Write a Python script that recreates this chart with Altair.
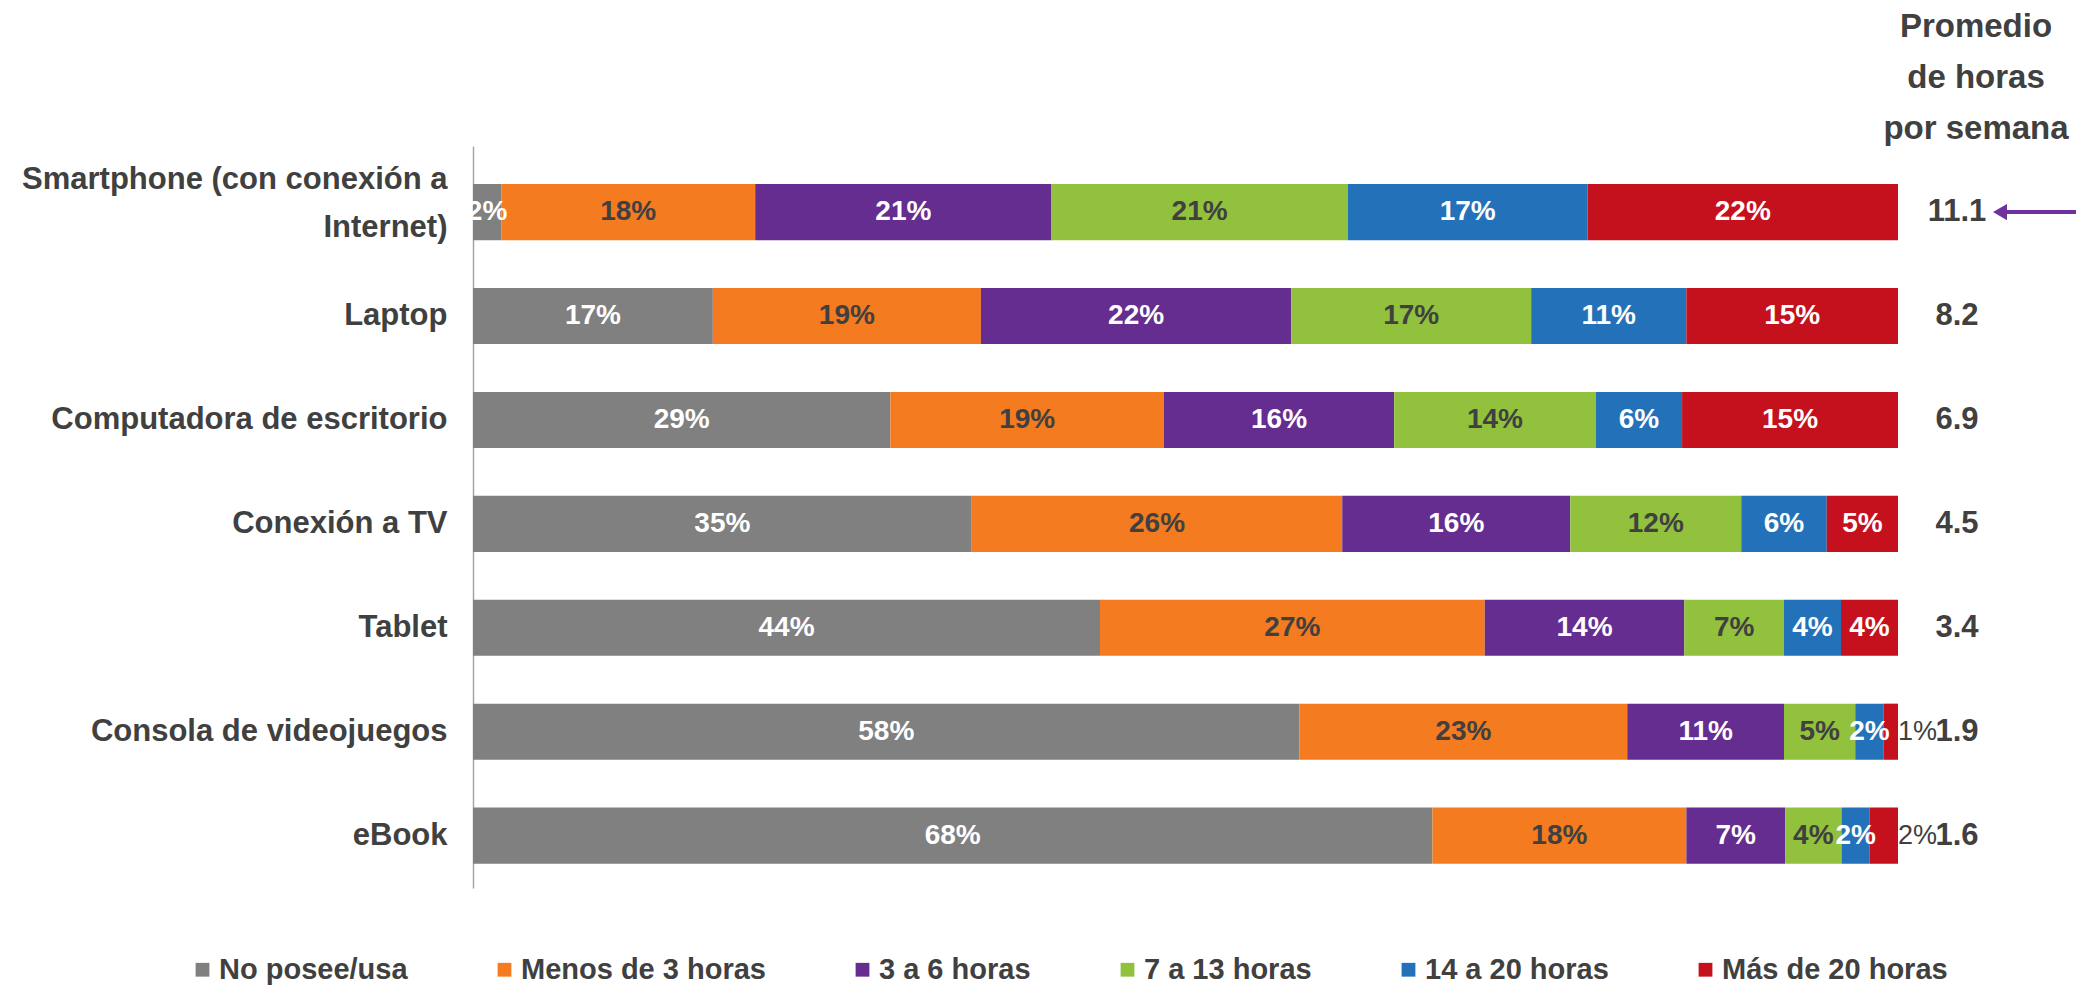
import altair as alt
import pandas as pd

# ---------------- data ----------------
devices = [
    "Smartphone (con conexión a Internet)",
    "Laptop",
    "Computadora de escritorio",
    "Conexión a TV",
    "Tablet",
    "Consola de videojuegos",
    "eBook",
]
categories = ["No posee/usa", "Menos de 3 horas", "3 a 6 horas",
              "7 a 13 horas", "14 a 20 horas", "Más de 20 horas"]
colors = ["#808080", "#f47b20", "#652d90", "#92c13e", "#2372b9", "#c5111d"]

no_posee = [2, 17, 29, 35, 44, 58, 68]
menos_3 = [18, 19, 19, 26, 27, 23, 18]
h3_6 = [21, 22, 16, 16, 14, 11, 7]
h7_13 = [21, 17, 14, 12, 7, 5, 4]
h14_20 = [17, 11, 6, 6, 4, 2, 2]
mas_20 = [22, 15, 15, 5, 4, 1, 2]

promedio = ["11.1", "8.2", "6.9", "4.5", "3.4", "1.9", "1.6"]
promedio_title = "Promedio\nde horas\npor semana"

# labels that sit just outside the end of their bar
outside_labels = [("Consola de videojuegos", "Más de 20 horas"),
                  ("eBook", "Más de 20 horas")]

series = [no_posee, menos_3, h3_6, h7_13, h14_20, mas_20]

rows = []
for ci, (cat, vals) in enumerate(zip(categories, series)):
    for d, v in zip(devices, vals):
        rows.append({"device": d, "category": cat, "value": v, "order": ci,
                     "outside": (d, cat) in outside_labels})
df = pd.DataFrame(rows)
df_prom = pd.DataFrame({"device": devices, "prom": promedio})
df_title = pd.DataFrame({"t": [promedio_title]})
df_arrow = pd.DataFrame({"device": [devices[0]]})

FONT = "Liberation Sans"
DARK = "#404040"
W, H = 1425, 742
SMART = devices[0]

y_enc = alt.Y(
    "device:N", sort=devices, title=None,
    scale=alt.Scale(paddingInner=0.46, paddingOuter=0.3, align=0.61),
    axis=alt.Axis(
        labelFont=FONT, labelFontSize=31, labelFontWeight="bold",
        labelColor=DARK, labelPadding=26, ticks=False, labelLimit=700,
        domainColor="#a6a6a6", domainWidth=1.5, labelLineHeight=48,
        labelOffset={"condition": {"test": f"datum.value == '{SMART}'", "value": -32},
                     "value": 0},
        labelExpr=f"datum.label == '{SMART}' ? "
                  "['Smartphone (con conexión a', 'Internet)'] : datum.label",
    ),
)

base = (
    alt.Chart(df)
    .transform_stack(stack="value", groupby=["device"], as_=["x0", "x1"],
                     offset="normalize", sort=[alt.SortField("order", "ascending")])
    .transform_calculate(mid="(datum.x0 + datum.x1) / 2",
                         lab="datum.value + '%'")
)

bars = base.mark_bar().encode(
    x=alt.X("x0:Q", scale=alt.Scale(domain=[0, 1], nice=False), axis=None),
    x2="x1:Q",
    y=y_enc,
    color=alt.Color(
        "category:N", title=None,
        scale=alt.Scale(domain=categories, range=colors),
        legend=alt.Legend(
            orient="none", legendX=-285, legendY=809, direction="horizontal",
            columns=6, symbolType="square", symbolSize=190, symbolStrokeWidth=0,
            labelFont=FONT, labelFontSize=29, labelFontWeight="bold",
            labelColor=DARK, columnPadding=82, labelOffset=2, labelLimit=500,
        ),
    ),
)

labels_in = base.transform_filter("!datum.outside").mark_text(
    font=FONT, fontSize=28, fontWeight="bold"
).encode(
    x="mid:Q",
    y=alt.Y("device:N", sort=devices),
    text="lab:N",
    color=alt.condition(
        "datum.category == 'Menos de 3 horas' || datum.category == '7 a 13 horas'",
        alt.value(DARK), alt.value("white")),
)

labels_out = base.transform_filter("datum.outside").mark_text(
    font=FONT, fontSize=27, align="left", dx=0, color=DARK
).encode(
    x="x1:Q",
    y=alt.Y("device:N", sort=devices),
    text="lab:N",
)

prom = alt.Chart(df_prom).mark_text(
    font=FONT, fontSize=31, fontWeight="bold", color=DARK, align="center"
).encode(
    x=alt.value(W + 59),
    y=alt.Y("device:N", sort=devices),
    text="prom:N",
)

title = alt.Chart(df_title).mark_text(
    font=FONT, fontSize=33, fontWeight="bold", color=DARK, align="center",
    baseline="middle", lineBreak="\n", lineHeight=51
).encode(
    x=alt.value(W + 78),
    y=alt.value(-119),
    text="t:N",
)

arrow_line = alt.Chart(df_arrow).mark_rule(color="#7030a0", strokeWidth=4).encode(
    y=alt.Y("device:N", sort=devices),
    x=alt.value(W + 102),
    x2=alt.value(W + 200),
)
arrow_head = alt.Chart(df_arrow).mark_point(
    shape="triangle-left", filled=True, size=260, color="#7030a0", opacity=1
).encode(
    y=alt.Y("device:N", sort=devices),
    x=alt.value(W + 102),
)

chart = (
    alt.layer(bars, labels_in, labels_out, prom, title, arrow_line, arrow_head)
    .properties(
        width=W, height=H,
        padding={"left": 465, "top": 138, "right": 178, "bottom": 98},
        autosize=alt.AutoSizeParams(type="none"),
        background="white",
    )
    .configure_view(strokeWidth=0)
)

chart.save("out.html", embed_options={"renderer": "svg", "actions": False})
